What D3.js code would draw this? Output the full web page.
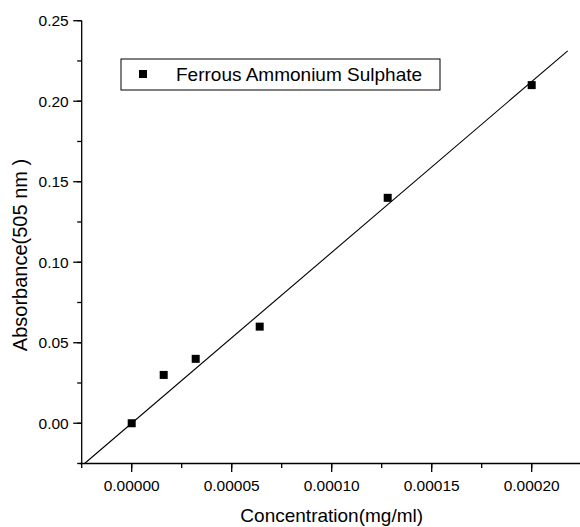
<!DOCTYPE html>
<html>
<head>
<meta charset="utf-8">
<script src="https://cdn.jsdelivr.net/npm/d3@7"></script>
<style>
  body { margin: 0; background: #fff; }
  svg { display: block; font-family: "Liberation Sans", Arial, sans-serif; }
</style>
</head>
<body>
<svg width="580" height="527"></svg>
<script>
var width = 580,
    height = 527;

// concentration (mg/ml) and absorbance readings
var concentration = [0, 0.000016, 0.000032, 0.000064, 0.000128, 0.0002];
var absorbance = [0, 0.03, 0.04, 0.06, 0.14, 0.21];
var xTicks = [0, 0.00005, 0.0001, 0.00015, 0.0002];
var yTicks = [0, 0.05, 0.1, 0.15, 0.2, 0.25];
var seriesName = 'Ferrous Ammonium Sulphate';
var fitEndX = 0.000218;

var points = concentration.map((c, i) => ({x: c, y: absorbance[i]}));

// linear fit through the origin
var slope = d3.sum(points, d => d.x * d.y) / d3.sum(points, d => d.x * d.x);

var x = d3.scaleLinear()
          .domain([-0.000025, 0.000225])
          .range([81.7, 581.7]);
var y = d3.scaleLinear()
          .domain([-0.025, 0.25])
          .range([463.5, 20.7]);

var svg = d3.select('svg')
            .attr('width', width)
            .attr('height', height);

// x axis
var xAxis = svg.append('g')
               .attr('transform', 'translate(0,' + y.range()[0] + ')');
xAxis.append('line')
     .attr('x1', x.range()[0] - 2).attr('x2', x.range()[1])
     .attr('stroke', '#000').attr('stroke-width', 1.3);
xAxis.selectAll('.minor')
     .data(d3.range(-0.000025, 0.000226, 0.000025))
     .enter().append('line')
     .attr('x1', d => x(d)).attr('x2', d => x(d))
     .attr('y1', 0).attr('y2', 4.5)
     .attr('stroke', '#000').attr('stroke-width', 1.3);
xAxis.selectAll('.major')
     .data(xTicks)
     .enter().append('line')
     .attr('x1', d => x(d)).attr('x2', d => x(d))
     .attr('y1', 0).attr('y2', 8.5)
     .attr('stroke', '#000').attr('stroke-width', 1.3);
xAxis.selectAll('text')
     .data(xTicks)
     .enter().append('text')
     .attr('x', d => x(d))
     .attr('y', 27.5)
     .attr('text-anchor', 'middle')
     .style('font-size', '15.5px')
     .text(d => d3.format('.5f')(d));

// y axis
var yAxis = svg.append('g')
               .attr('transform', 'translate(' + x.range()[0] + ',0)');
yAxis.append('line')
     .attr('y1', y.range()[0]).attr('y2', y.range()[1])
     .attr('stroke', '#000').attr('stroke-width', 1.3);
yAxis.selectAll('.minor')
     .data(d3.range(-0.025, 0.2501, 0.025))
     .enter().append('line')
     .attr('y1', d => y(d)).attr('y2', d => y(d))
     .attr('x1', 0).attr('x2', -4.5)
     .attr('stroke', '#000').attr('stroke-width', 1.3);
yAxis.selectAll('.major')
     .data(yTicks)
     .enter().append('line')
     .attr('y1', d => y(d)).attr('y2', d => y(d))
     .attr('x1', 0).attr('x2', -8.5)
     .attr('stroke', '#000').attr('stroke-width', 1.3);
yAxis.selectAll('text')
     .data(yTicks)
     .enter().append('text')
     .attr('x', -13)
     .attr('y', d => y(d))
     .attr('dy', '0.35em')
     .attr('text-anchor', 'end')
     .style('font-size', '15.5px')
     .text(d => d3.format('.2f')(d));

// axis titles
svg.append('text')
   .attr('x', (x.range()[0] + x.range()[1]) / 2)
   .attr('y', 522)
   .attr('text-anchor', 'middle')
   .style('font-size', '19px')
   .text('Concentration(mg/ml)');
svg.append('text')
   .attr('transform', 'translate(27,255) rotate(-90)')
   .attr('text-anchor', 'middle')
   .style('font-size', '20px')
   .text('Absorbance(505 nm )');

// fitted line
var x0 = y.domain()[0] / slope;
svg.append('line')
   .attr('x1', x(x0)).attr('y1', y(slope * x0))
   .attr('x2', x(fitEndX)).attr('y2', y(slope * fitEndX))
   .attr('stroke', '#000').attr('stroke-width', 1.1);

// data points
svg.selectAll('.pt')
   .data(points)
   .enter().append('rect')
   .attr('class', 'pt')
   .attr('x', d => x(d.x) - 4)
   .attr('y', d => y(d.y) - 4)
   .attr('width', 8)
   .attr('height', 8)
   .attr('fill', '#000');

// legend
var legend = svg.append('g').attr('transform', 'translate(121,59)');
legend.append('rect')
      .attr('width', 319).attr('height', 31)
      .attr('fill', '#fff').attr('stroke', '#000').attr('stroke-width', 1);
legend.append('rect')
      .attr('x', 18).attr('y', 11).attr('width', 8).attr('height', 8)
      .attr('fill', '#000');
legend.append('text')
      .attr('x', 55).attr('y', 22)
      .style('font-size', '19px')
      .text(seriesName);
</script>
</body>
</html>
